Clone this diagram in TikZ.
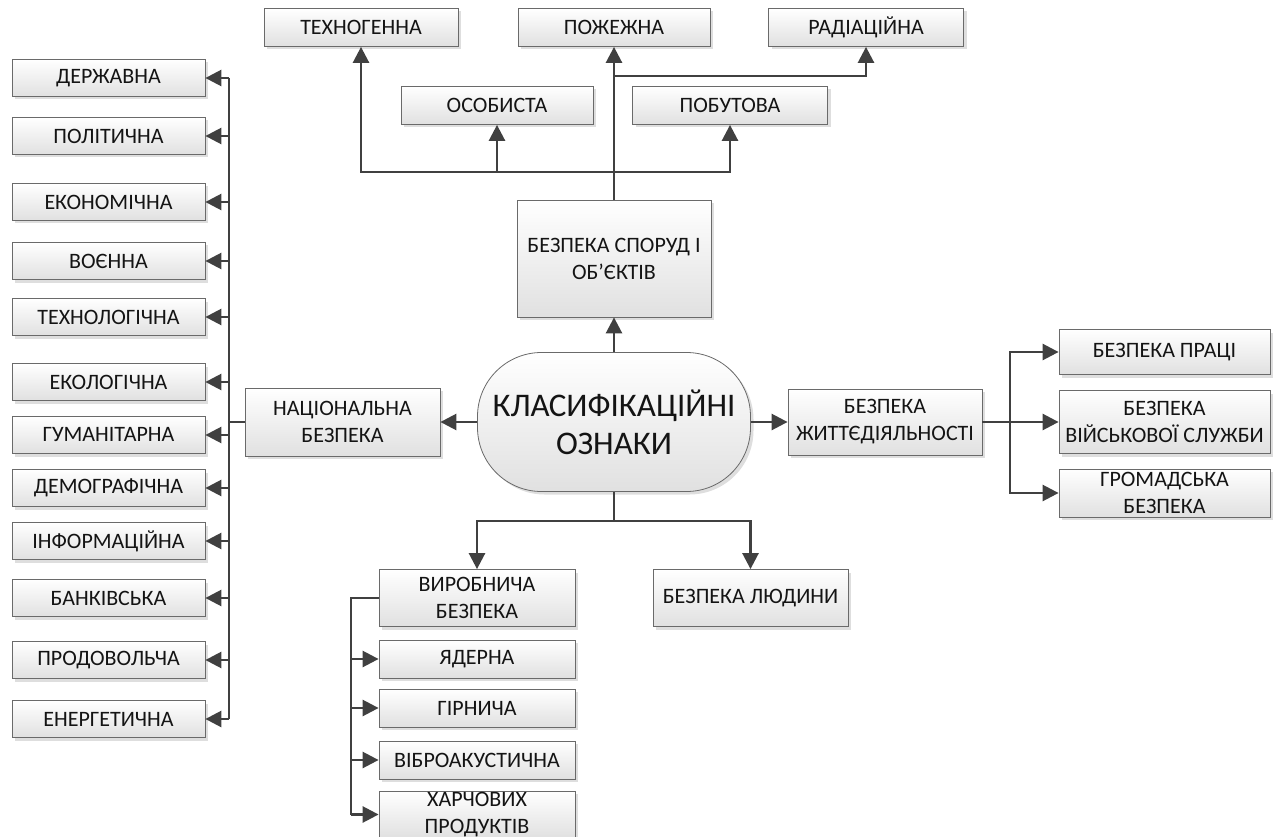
\documentclass[tikz,border=0pt]{standalone}
\usepackage{fontspec}
\setmainfont{Carlito}
\usetikzlibrary{arrows.meta,shadows,calc}
\definecolor{lncol}{HTML}{404040}
\definecolor{bdcol}{HTML}{6A6A6A}
\tikzset{
  box/.style={draw=bdcol, line width=0.8pt, top color=white, bottom color=black!12,
    drop shadow={shadow xshift=3pt, shadow yshift=-3pt, fill=black!13, opacity=1},
    align=center, font=\fontsize{22}{27}\selectfont, text=black!92, inner sep=1pt,
    minimum width=194pt, minimum height=38pt},
  lbox/.style={box, minimum width=193pt, minimum height=37pt},
  conn/.style={draw=lncol, line width=2.6pt},
  arr/.style={conn, -{Triangle[length=16pt,width=16pt]}},
}
\begin{document}
\begin{tikzpicture}[x=1pt,y=-1pt]
\useasboundingbox (0,0) rectangle (1277,837);
% left column
\node[lbox] (l1) at (108.5,78) {ДЕРЖАВНА};
\node[lbox] (l2) at (108.5,136) {ПОЛІТИЧНА};
\node[lbox] (l3) at (108.5,202) {ЕКОНОМІЧНА};
\node[lbox] (l4) at (108.5,261) {ВОЄННА};
\node[lbox] (l5) at (108.5,317) {ТЕХНОЛОГІЧНА};
\node[lbox] (l6) at (108.5,382) {ЕКОЛОГІЧНА};
\node[lbox] (l7) at (108.5,435) {ГУМАНІТАРНА};
\node[lbox] (l8) at (108.5,488) {ДЕМОГРАФІЧНА};
\node[lbox] (l9) at (108.5,541) {ІНФОРМАЦІЙНА};
\node[lbox] (l10) at (108.5,598) {БАНКІВСЬКА};
\node[lbox] (l11) at (108.5,660) {ПРОДОВОЛЬЧА};
\node[lbox] (l12) at (108.5,719) {ЕНЕРГЕТИЧНА};
\node[box, minimum width=195pt, minimum height=68pt] (nat) at (342.5,422) {НАЦІОНАЛЬНА\\БЕЗПЕКА};
% centre
\node[box, rounded corners=64pt, minimum width=273pt, minimum height=139pt,
  font=\fontsize{33}{38}\selectfont] (cls) at (614,422) {КЛАСИФІКАЦІЙНІ\\ОЗНАКИ};
\node[box, minimum width=194pt, minimum height=117pt] (spor) at (614,258.5) {БЕЗПЕКА СПОРУД І\\ОБ’ЄКТІВ};
% top
\node[box] (tekh) at (361,27.5) {ТЕХНОГЕННА};
\node[box, minimum width=192pt] (pozh) at (614,27.5) {ПОЖЕЖНА};
\node[box, minimum width=195pt] (rad) at (866,27.5) {РАДІАЦІЙНА};
\node[box, minimum width=192pt] (osob) at (497,105.5) {ОСОБИСТА};
\node[box, minimum width=195pt] (pobut) at (730,105.5) {ПОБУТОВА};
% right
\node[box, minimum width=194pt, minimum height=66pt] (zhit) at (885,422) {БЕЗПЕКА\\ЖИТТЄДІЯЛЬНОСТІ};
\node[box, minimum width=211pt, minimum height=45pt] (praci) at (1164.5,352) {БЕЗПЕКА ПРАЦІ};
\node[box, minimum width=211pt, minimum height=63pt] (vijsk) at (1164.5,422) {БЕЗПЕКА\\ВІЙСЬКОВОЇ СЛУЖБИ};
\node[box, minimum width=211pt, minimum height=48pt] (hrom) at (1164.5,493) {ГРОМАДСЬКА\\БЕЗПЕКА};
% bottom
\node[box, minimum width=196pt, minimum height=57pt] (vyrob) at (477,598) {ВИРОБНИЧА\\БЕЗПЕКА};
\node[box, minimum width=195pt, minimum height=57pt] (lyud) at (750.5,598) {БЕЗПЕКА ЛЮДИНИ};
\node[box, minimum width=196pt] (yader) at (477,659) {ЯДЕРНА};
\node[box, minimum width=196pt] (hirn) at (477,708) {ГІРНИЧА};
\node[box, minimum width=196pt] (vibro) at (477,760) {ВІБРОАКУСТИЧНА};
\node[box, minimum width=196pt, minimum height=45pt] (kharch) at (477,814.5) {ХАРЧОВИХ\\ПРОДУКТІВ};
% junction coordinates
\coordinate (nb) at (229,422);
\coordinate (tb) at (614,172);
\coordinate (ub) at (614,76);
\coordinate (rb) at (1010,422);
\coordinate (bb) at (614,521);
\coordinate (sb) at (351,598);
% connectors: left
\draw[arr] (cls.west) -- (nat.east);
\draw[conn] (nat.west) -- (nb);
\draw[conn] (nb |- l1.east) -- (nb |- l12.east);
\foreach \n in {l1,l2,l3,l4,l5,l6,l7,l8,l9,l10,l11,l12}
  \draw[arr] (nb |- \n.east) -- (\n.east);
% top
\draw[arr] (cls.north) -- (spor.south);
\draw[arr] (spor.north) -- (pozh.south);
\draw[arr] (tb) -| (tekh.south);
\draw[arr] (tb) -| (pobut.south);
\draw[arr] (osob.south |- tb) -- (osob.south);
\draw[arr] (ub) -| (rad.south);
% right
\draw[arr] (cls.east) -- (zhit.west);
\draw[arr] (zhit.east) -- (vijsk.west);
\draw[arr] (rb) |- (praci.west);
\draw[arr] (rb) |- (hrom.west);
% bottom
\draw[conn] (cls.south) -- (bb);
\draw[arr] (bb) -| (vyrob.north);
\draw[arr] (bb) -| (lyud.north);
\draw[conn] (vyrob.west) -- (sb) -- (sb |- kharch.west);
\foreach \n in {yader,hirn,vibro,kharch}
  \draw[arr] (sb |- \n.west) -- (\n.west);
\end{tikzpicture}
\end{document}
